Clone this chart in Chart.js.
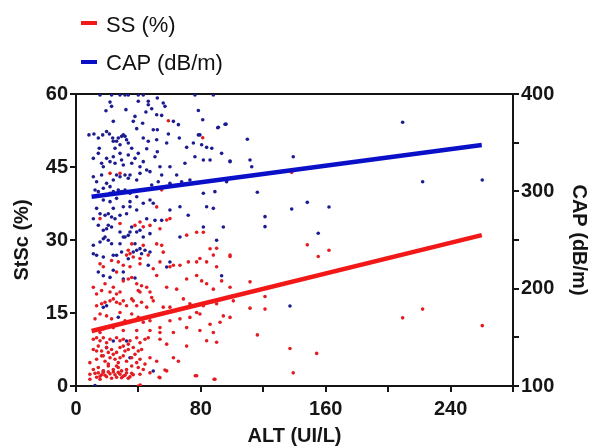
<!DOCTYPE html>
<html>
<head>
<meta charset="utf-8">
<script src="https://cdn.jsdelivr.net/npm/chart.js@4/dist/chart.umd.min.js"></script>
<style>
  html, body { margin:0; padding:0; background:#fff; }
  #wrap { position:relative; width:595px; height:448px; }
  canvas { position:absolute; left:0; top:0; }
  .lg { position:absolute; font-family:"Liberation Sans", Arial, sans-serif; font-size:22px; color:#111; line-height:26px; white-space:nowrap; }
  .dash { position:absolute; width:16px; height:4px; }
</style>
</head>
<body>
<div id="wrap">
  <canvas id="c" width="595" height="448"></canvas>
  <div class="dash" style="left:81px;top:21px;background:#f21818"></div>
  <div class="lg" style="left:106px;top:12px">SS (%)</div>
  <div class="dash" style="left:81px;top:60px;background:#0a10c8"></div>
  <div class="lg" style="left:106px;top:50px">CAP (dB/m)</div>
</div>
<script>
// ALT (UI/L) vs steatosis score SS (%)
const ssPoints = [
 [59.2,54.5],[81.2,51.0],[21.8,43.7],[28.2,43.7],[54.9,40.3],[51.7,36.8],
 [15.4,34.4],[28.2,33.4],[37.8,33.0],[43.1,32.7],[41.0,33.7],[47.4,33.0],[53.8,32.3],[58.1,34.1],[60.2,34.4],[70.9,31.0],
 [77.3,31.6],[81.6,31.6],[85.9,28.2],[98.7,26.9],[43.1,28.9],[51.7,29.2],[54.9,28.9],[35.7,29.2],[32.4,26.9],[34.6,27.2],
 [36.7,26.5],[33.5,27.9],[41.0,26.2],[46.3,26.9],[55.9,27.5],[53.8,25.5],[60.2,24.5],[62.4,24.8],[66.6,24.8],[72.0,25.5],
 [77.3,25.5],[79.4,26.2],[83.7,25.5],[88.0,26.9],[90.1,24.5],[34.6,24.5],[41.0,25.1],[49.5,24.1],[27.1,25.5],[22.8,25.8],
 [15.4,25.1],[17.5,24.5],[30.3,24.8],[26.0,23.4],
 [11.1,20.3],[13.2,18.9],[16.4,19.6],[18.6,21.0],[21.8,19.3],[23.9,20.3],[26.0,18.9],[28.2,19.3],[30.3,21.6],[33.5,22.0],
 [35.7,22.3],[38.9,21.0],[39.9,19.6],[41.0,19.3],[42.0,20.6],[45.3,20.3],[47.4,19.3],[48.5,18.2],[51.7,22.7],[58.1,20.3],
 [64.5,19.9],[70.9,22.0],[77.3,22.7],[80.5,21.6],[83.7,21.0],[88.0,19.9],[93.3,21.6],[98.7,20.3],[13.2,16.5],[16.4,16.9],
 [18.6,17.2],[21.8,17.5],[23.9,17.9],[26.0,17.2],[28.2,16.9],[30.3,17.5],[32.4,16.5],[35.7,17.9],[36.7,17.5],[38.9,16.5],
 [42.0,17.2],[45.3,16.2],[49.5,17.5],[55.9,16.2],[60.2,16.2],[64.5,15.5],[68.8,17.9],[73.0,16.9],[77.3,15.1],[81.6,16.5],
 [85.9,17.2],[90.1,16.9],[96.5,18.2],[100.8,17.5],[12.2,13.8],[15.4,14.8],[19.6,14.4],[22.8,13.8],[28.2,15.1],[31.4,13.4],
 [35.7,14.8],[39.9,14.1],[43.1,13.1],[47.4,13.4],[53.8,12.0],[60.2,13.4],[66.6,13.8],[73.0,14.1],[79.4,14.8],[85.9,12.7],
 [92.3,13.1],[98.7,14.1],[38.9,11.4],[47.4,11.4],[53.8,11.0],[62.4,11.0],[70.9,12.0],[79.4,11.4],[88.0,11.0],[94.4,14.4],
 [17.5,11.7],[23.9,12.0],[30.3,11.4],[15.4,11.0],
 [11.1,9.6],[13.2,9.9],[15.4,9.3],[17.5,9.9],[19.6,8.9],[21.8,9.6],[26.0,9.9],[28.2,9.3],[30.3,9.6],[34.6,9.3],
 [38.9,9.9],[41.0,8.9],[44.2,9.6],[46.3,9.9],[53.8,9.6],[58.1,8.6],[70.9,8.2],[83.7,9.3],[90.1,9.0],[11.1,7.5],
 [14.3,8.2],[16.4,7.2],[19.6,7.9],[22.8,7.5],[26.0,6.9],[28.2,7.9],[31.4,7.2],[33.5,7.5],[36.7,7.9],[39.9,7.2],
 [42.0,7.5],[47.4,5.8],[51.7,5.1],[62.4,5.8],[65.6,5.1],[8.9,4.8],[13.2,5.5],[16.4,6.2],[18.6,5.1],[21.8,5.8],
 [25.0,5.5],[27.1,4.8],[30.3,6.2],[32.4,5.1],[35.7,5.8],[38.9,4.8],[11.1,3.4],[14.3,3.8],[17.5,3.1],[20.7,4.1],
 [23.9,3.4],[27.1,3.8],[29.2,3.1],[32.4,3.4],[35.7,4.1],[39.9,3.8],[43.1,3.4],[58.1,3.1],[8.9,2.4],[12.2,2.6],
 [15.4,2.0],[17.5,2.8],[19.6,1.9],[21.8,2.5],[23.9,2.9],[26.0,1.8],[28.2,2.4],[30.3,2.0],[32.4,2.7],[34.6,1.9],
 [36.7,2.3],[41.0,2.4],[47.4,2.7],[53.8,1.7],[77.3,2.1],[89.0,1.4],[39.9,0.0],[8.9,1.4],[15.4,1.4],
 [18.6,2.2],[20.7,2.9],[22.8,1.6],[25.0,2.3],[27.1,2.8],[29.2,1.7],[31.4,2.2],[33.5,1.6],[35.7,2.6],[13.2,1.8],
 [14.3,2.7],[16.4,2.3],[13.2,7.2],[17.5,6.2],[20.7,6.9],[23.9,6.5],[30.3,8.2],[33.5,8.6],[37.8,6.5],[41.0,5.5],
 [44.2,4.5],[28.2,5.8],[20.7,4.5],[26.0,4.1],
 [138.2,43.9],[148.2,29.0],[155.2,26.6],[162.1,27.9],[111.5,21.4],[111.5,16.0],[121.1,18.4],[121.1,15.8],[116.2,10.5],
 [137.1,7.7],[154.2,6.7],[139.2,2.7],[209.3,14.0],[222.1,15.8],[260.3,12.4],[98.7,26.6],[90.1,28.3],[88.5,1.4],
 [76.4,2.1],[57.0,3.3],[53.3,1.8],[41.2,0.2]
];
// ALT (UI/L) vs CAP (dB/m)
const capPoints = [
 [15.4,399],[22.8,399],[28.2,399],[31.4,399],[33.5,399],[39.9,399],[43.1,399],[76.2,399],[88.0,399],
 [21.8,391.7],[22.8,387.3],[19.2,382.8],[32.0,383.9],[39.9,392.5],[46.3,392.5],[46.3,389.0],[52.1,395.9],[55.9,390.7],
 [57.0,387.3],[48.5,384.9],[44.8,381.5],[37.8,377.0],[36.7,371.9],[23.9,371.9],[51.7,378.7],[54.9,378.0],[78.4,383.0],
 [81.2,373.6],[62.4,371.9],[65.6,368.5],[42.7,370.0],[38.9,364.4],[49.5,363.3],[52.1,363.3],[59.2,358.9],[66.2,354.8],
 [78.4,358.0],[79.4,358.0],[91.2,365.8],[96.1,369.0],[8.3,358.0],[11.5,358.9],[14.3,354.8],[17.1,358.0],[19.6,361.5],
 [21.4,358.9],[23.5,354.8],[23.9,351.4],[27.1,354.8],[29.2,356.5],[30.3,358.0],[31.4,356.5],[32.4,353.0],[26.0,351.4],
 [28.2,347.9],[33.5,349.6],[43.1,354.8],[46.3,351.4],[51.7,353.0],[58.1,349.6],[70.9,345.2],[75.2,349.6],[80.5,347.9],
 [83.7,345.2],[87.0,344.3],[14.9,344.3],[25.0,344.3],[35.7,344.3],[45.3,343.8],
 [11.1,333.9],[14.3,339.0],[16.4,328.8],[17.5,325.3],[19.6,333.9],[21.8,330.5],[23.9,335.6],[25.0,328.8],[28.2,339.0],
 [29.2,332.2],[30.3,327.0],[33.5,337.3],[35.7,328.8],[37.8,333.9],[39.9,339.0],[41.0,325.3],[43.1,330.5],[45.3,321.9],
 [47.4,320.2],[50.6,335.6],[52.1,340.7],[53.8,325.3],[54.9,316.8],[60.2,325.3],[64.5,316.8],[69.8,328.8],[76.2,335.6],
 [81.6,332.2],[85.9,332.2],[93.3,339.0],[98.7,330.5],[11.1,315.0],[13.2,309.9],[16.4,316.8],[19.6,308.2],[21.8,304.8],
 [23.9,311.6],[26.0,316.8],[28.2,315.0],[31.4,316.8],[33.5,313.4],[34.6,316.8],[38.9,311.6],[41.0,318.5],[48.5,306.5],
 [52.7,309.9],[58.1,304.8],[60.2,308.2],[67.7,309.9],[73.0,311.6],[81.6,298.0],[89.0,299.7],[96.5,309.9],[12.2,301.4],
 [14.3,299.7],[17.5,303.1],[21.8,298.0],[23.9,299.7],[27.1,301.4],[29.2,299.7],[31.4,301.4],[34.6,298.0],[17.5,291.1],
 [21.8,289.4],[26.0,292.8],[34.6,289.4],[38.9,294.5],[43.1,287.7],[47.4,291.1],[49.5,287.7],[13.2,282.5],[23.9,282.5],
 [30.3,284.2],[34.6,284.2],[38.9,280.8],[60.2,280.8],[66.6,284.2],[83.7,284.2],[88.0,282.5],
 [11.1,271.9],[15.4,277.0],[18.6,275.4],[20.7,277.0],[22.8,273.6],[25.0,271.9],[28.2,275.4],[32.4,277.0],[45.3,271.9],
 [50.6,270.2],[54.9,270.2],[71.9,275.4],[81.6,263.4],[94.4,263.4],[90.1,249.7],[66.6,253.1],[14.3,265.1],[17.5,260.0],
 [19.6,261.6],[20.7,265.1],[22.8,263.4],[28.2,258.2],[31.4,253.1],[34.6,258.2],[35.7,263.4],[38.9,258.2],[41.0,260.0],
 [43.1,253.1],[47.4,256.5],[11.1,244.6],[15.4,247.9],[17.5,251.3],[18.6,253.1],[20.7,249.7],[22.8,246.2],[28.2,246.2],
 [30.3,253.1],[33.5,254.8],[37.8,246.2],[41.0,241.1],[42.0,235.9],[44.2,239.4],[47.4,237.7],[11.1,235.9],[13.2,234.3],
 [17.5,232.5],[23.9,234.3],[26.0,234.3],[29.2,237.7],[33.5,230.8],[36.7,237.7],[38.9,239.4],[46.3,224.0],[58.1,222.3],
 [60.2,227.4],[14.3,217.1],[23.9,218.9],[30.3,217.1],
 [17.5,213.3],[21.8,211.6],[30.3,209.9],[37.8,211.0],[93.3,213.3],[17.5,180.8],[19.6,182.5],[27.1,170.6],[23.9,146.2],
 [32.4,146.2],[19.6,139.4],[34.6,129.1],[49.5,115.4],[17.5,115.4],[12.2,100.5],
 [111.5,332.2],[112.6,325.3],[139.2,335.6],[116.2,299.0],[121.1,274.0],[121.1,263.7],[138.2,281.8],[148.2,288.7],
 [162.1,283.9],[155.2,256.9],[209.3,371.0],[222.1,309.9],[260.3,311.6],[109.8,353.5],[98.7,331.2],[95.5,368.9],
 [90.8,365.4],[137.1,182.2]
];
// regression line end points [ALT, value]
const ssFit = [[10, 11.3], [260, 31.0]];
const capFit = [[10, 294.5], [260, 347.6]];
// axis settings
const xTicks = [0, 80, 160, 240];
const ssTicks = [0, 15, 30, 45, 60];
const capTicks = [100, 200, 300, 400];

const toXY = arr => arr.map(p => ({x: p[0], y: p[1]}));
const FONT = '"Liberation Sans", Arial, sans-serif';
const INK = '#151515';
const tickFont = {family: FONT, size: 20, weight: 'bold'};
const titleFont = {family: FONT, size: 20, weight: 'bold'};
const axisGrid = {display: true, drawOnChartArea: false, drawTicks: true, tickLength: 6, color: INK, lineWidth: 2};
const axisBorder = {display: true, color: INK, width: 2};

new Chart(document.getElementById('c'), {
  type: 'scatter',
  data: {
    datasets: [
      {label: 'SS fit', data: toXY(ssFit), yAxisID: 'y', showLine: true, borderColor: '#f21818', borderWidth: 4.5, pointRadius: 0, order: 0},
      {label: 'CAP fit', data: toXY(capFit), yAxisID: 'y2', showLine: true, borderColor: '#0a10c8', borderWidth: 4.5, pointRadius: 0, order: 0},
      {label: 'SS (%)', data: toXY(ssPoints), yAxisID: 'y', backgroundColor: '#e41c22', borderWidth: 0, pointRadius: 1.8, order: 1},
      {label: 'CAP (dB/m)', data: toXY(capPoints), yAxisID: 'y2', backgroundColor: '#1c1c90', borderWidth: 0, pointRadius: 1.8, order: 2}
    ]
  },
  options: {
    responsive: false,
    animation: false,
    layout: {padding: {top: 94, left: 0, right: 0, bottom: 0}},
    plugins: {legend: {display: false}, tooltip: {enabled: false}},
    scales: {
      x: {
        type: 'linear', position: 'bottom', min: 0, max: 280,
        ticks: {stepSize: 40, autoSkip: false, maxRotation: 0, padding: 5, color: INK, font: tickFont,
                callback: v => xTicks.includes(v) ? String(v) : ''},
        grid: axisGrid, border: axisBorder,
        title: {display: true, text: 'ALT (UI/L)', color: INK, font: titleFont, padding: {top: 0, bottom: 0}},
        afterFit: s => { s.height = 62; }
      },
      xTop: {
        type: 'linear', position: 'top', min: 0, max: 280,
        ticks: {display: false},
        grid: {display: true, drawOnChartArea: false, drawTicks: false, color: INK},
        border: axisBorder,
        afterFit: s => { s.height = 0; }
      },
      y: {
        type: 'linear', position: 'left', min: 0, max: 60,
        ticks: {stepSize: 15, padding: 2, color: INK, font: tickFont,
                callback: v => ssTicks.includes(v) ? String(v) : ''},
        grid: axisGrid, border: axisBorder,
        title: {display: true, text: 'StSc (%)', color: INK, font: titleFont, padding: {top: 10, bottom: 0}},
        afterFit: s => { s.width = 76; }
      },
      y2: {
        type: 'linear', position: 'right', min: 100, max: 400,
        ticks: {stepSize: 50, padding: 2, color: INK, font: tickFont,
                callback: v => capTicks.includes(v) ? String(v) : ''},
        grid: axisGrid, border: axisBorder,
        title: {display: true, text: 'CAP (dB/m)', color: INK, font: titleFont, padding: {top: 4, bottom: 0}},
        afterFit: s => { s.width = 82; }
      }
    }
  }
});
</script>
</body>
</html>
